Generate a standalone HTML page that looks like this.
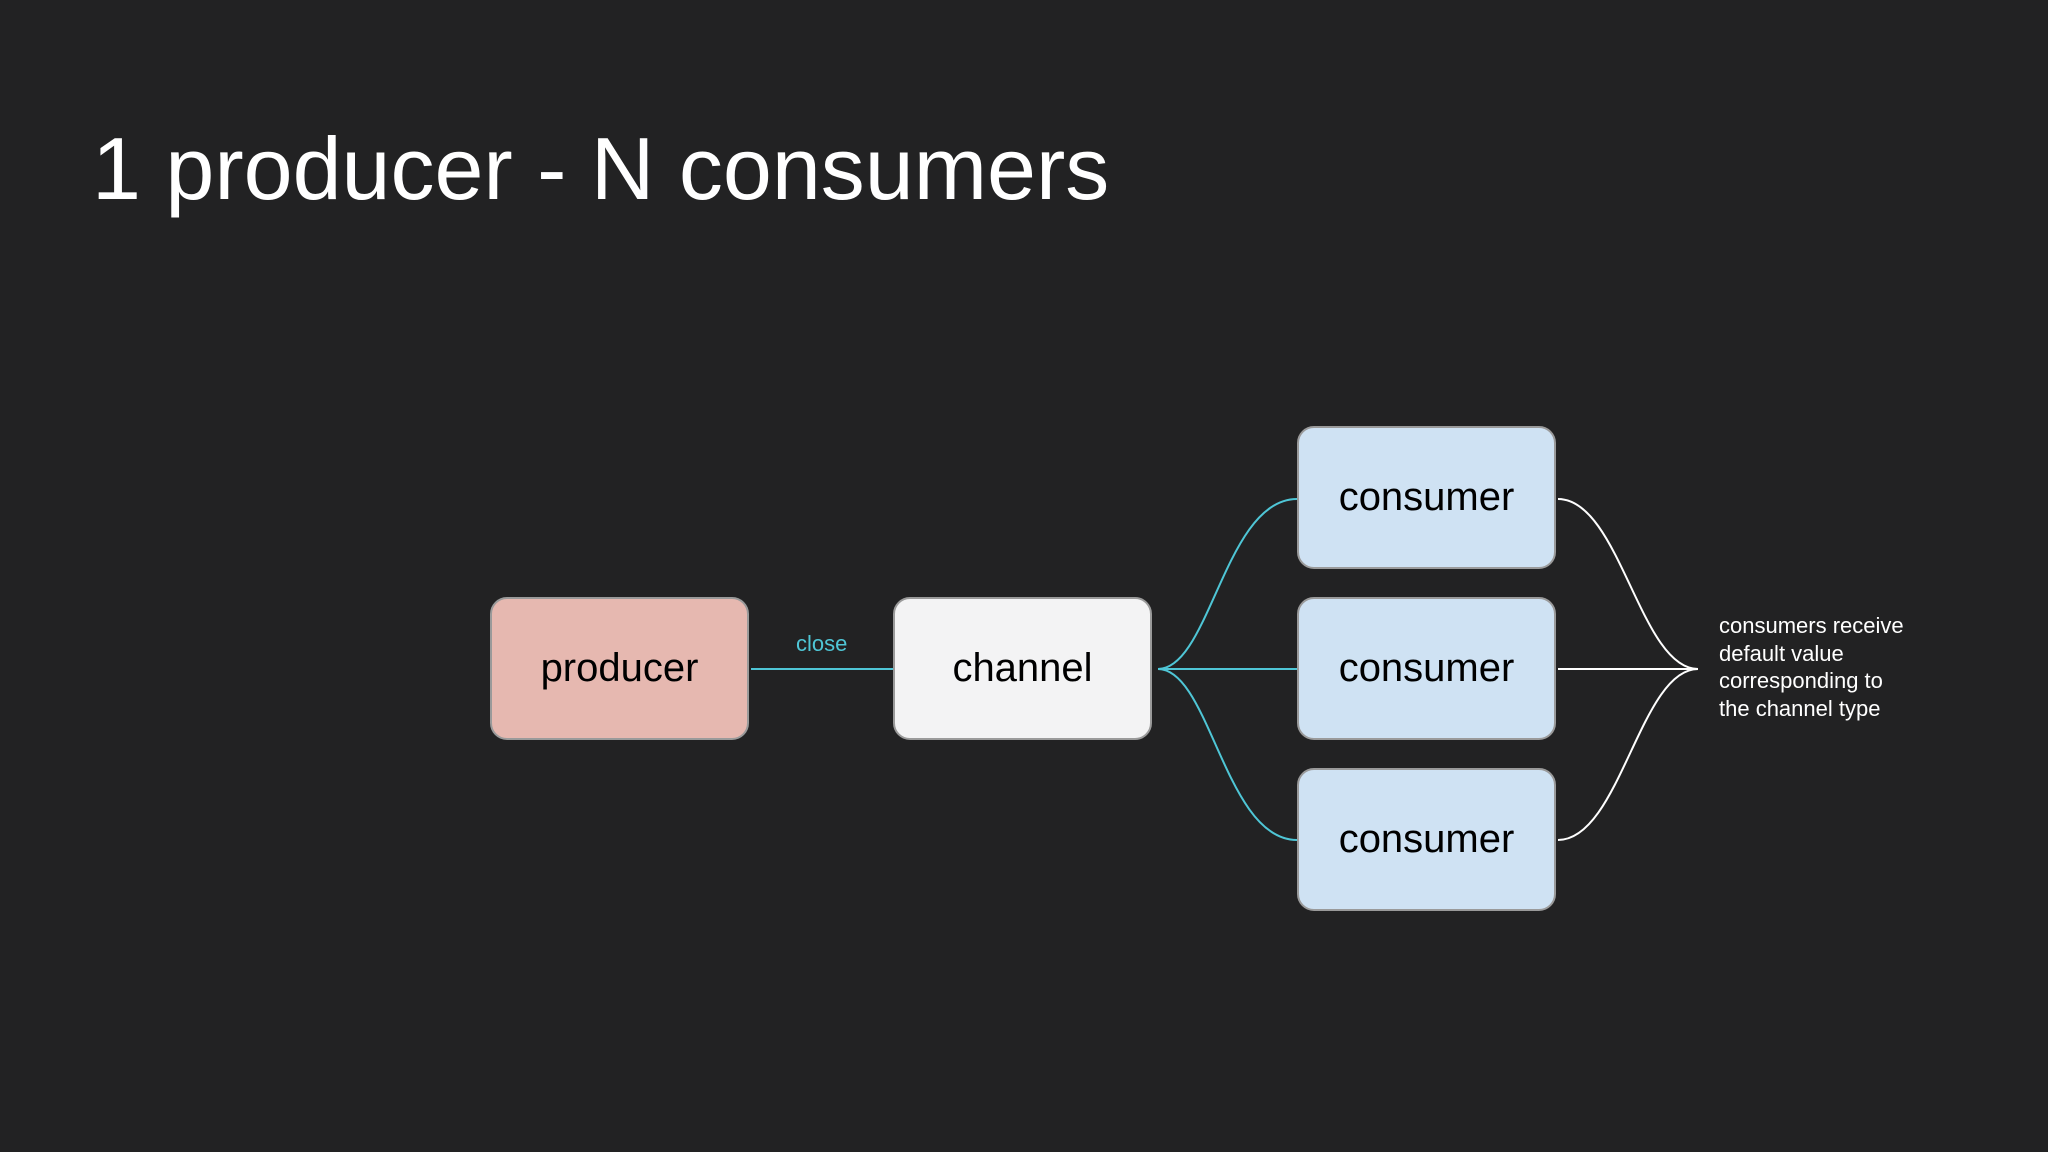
<!DOCTYPE html>
<html><head><meta charset="utf-8"><style>
html,body{margin:0;padding:0;background:#222223;}
body{width:2048px;height:1152px;position:relative;overflow:hidden;font-family:"Liberation Sans",sans-serif;}
.t{position:absolute;left:92px;top:118px;font-size:88px;color:#fff;white-space:nowrap;}
.b{position:absolute;width:259px;height:143px;border-radius:17px;box-sizing:border-box;border:2px solid #9a9a9a;display:flex;align-items:center;justify-content:center;font-size:40px;color:#000;}
.n{position:absolute;left:1719px;top:612px;font-size:22px;line-height:27.6px;color:#fff;}
</style></head><body>
<div class="t">1 producer - N consumers</div>
<svg width="2048" height="1152" style="position:absolute;left:0;top:0">
<g fill="none" stroke="#4fc6d6" stroke-width="2">
<line x1="751" y1="669" x2="893" y2="669"/>
<path d="M1158 669 L1297 669"/>
<path d="M1158 669 C1210 669 1225 499 1297 499"/>
<path d="M1158 669 C1210 669 1225 840 1297 840"/>
</g>
<g fill="none" stroke="#fff" stroke-width="2">
<path d="M1558 669 L1698 669"/>
<path d="M1558 499 C1620 499 1640 669 1698 669"/>
<path d="M1558 840 C1620 840 1640 669 1698 669"/>
</g>
</svg>
<div style="position:absolute;left:796px;top:631px;font-size:22px;color:#4fc6d6">close</div>
<div class="b" style="left:490px;top:597px;background:#e6b8b0">producer</div>
<div class="b" style="left:893px;top:597px;background:#f3f3f4">channel</div>
<div class="b" style="left:1297px;top:426px;background:#cfe2f3">consumer</div>
<div class="b" style="left:1297px;top:597px;background:#cfe2f3">consumer</div>
<div class="b" style="left:1297px;top:768px;background:#cfe2f3">consumer</div>
<div class="n">consumers receive<br>default value<br>corresponding to<br>the channel type</div>
</body></html>
